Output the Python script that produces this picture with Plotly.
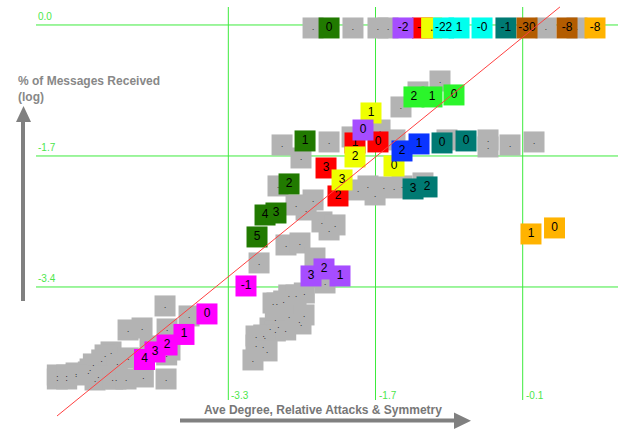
import plotly.graph_objects as go

# ---------------- data ----------------
x_ticks = [-3.3, -1.7, -0.1]
x_tick_labels = ["-3.3", "-1.7", "-0.1"]
y_ticks = [0.0, -1.7, -3.4]
y_tick_labels = ["0.0", "-1.7", "-3.4"]

gray_x = [-2.379, -1.945, -1.673, -1.564, 0.153, 0.490,
          -2.716, -2.205, -2.510, -1.651, -1.955, -1.238, -0.999, -1.423, -1.488,
          -0.923, -0.477, -0.477, -0.238, 0.023, -2.760, -1.890, -1.782, -1.705,
          -1.608, -1.499, -1.412, -1.184, -2.379, -2.564, -2.455, -2.282, -2.140,
          -2.205, -2.673, -2.521, -2.358, -2.966, -2.249,
          -2.643, -2.564, -2.474, -2.814, -2.771, -2.698, -2.789, -2.640, -2.528,
          -2.477, -2.510, -2.847, -2.757, -2.676, -2.789, -2.915, -2.904, -2.999,
          -2.999, -2.923, -2.879, -3.032,
          -3.988, -3.727, -3.966, -3.934, -3.977, -4.390, -4.238, -4.151, -3.970,
          -4.575, -4.640, -4.676, -4.387, -4.507, -4.767, -4.803, -4.822, -4.955,
          -4.713, -4.749, -5.159, -5.159, -5.057, -5.057, -4.955, -4.557, -4.521,
          -4.412, -4.224]
gray_y = [-0.039, -0.039, -0.039, -0.039, -0.039, -0.039,
          -1.557, -1.518, -1.726, -1.363, -1.453, -0.869, -0.727, -1.064, -1.492,
          -1.492, -1.492, -1.583, -1.557, -1.518, -2.089, -2.141, -2.089, -2.206,
          -2.102, -2.115, -2.089, -2.050, -2.271, -2.336, -2.401, -2.556, -2.595,
          -2.660, -2.855, -2.829, -3.024, -3.088, -3.348,
          -3.504, -3.504, -3.478, -3.608, -3.608, -3.582, -3.815, -3.776, -3.841,
          -3.763, -3.880, -3.932, -3.906, -3.958, -3.971, -4.023, -4.049, -4.036,
          -4.153, -4.166, -4.230, -4.347,
          -3.646, -3.776, -3.945, -4.218, -4.594, -3.958, -3.932, -4.166, -4.282,
          -4.243, -4.282, -4.347, -4.321, -4.386, -4.399, -4.464, -4.503, -4.516,
          -4.555, -4.607, -4.542, -4.594, -4.542, -4.594, -4.542, -4.594, -4.594,
          -4.594, -4.568]

red_x = [-1.190, -1.923, -1.673, -2.238, -2.108]
red_y = [-0.039, -1.531, -1.518, -1.856, -2.219]
red_lbl = ["-2", "1", "0", "3", "2"]

yellow_x = [-1.090, -1.749, -1.923, -1.499, -2.064]
yellow_y = [-0.039, -1.142, -1.713, -1.830, -2.011]
yellow_lbl = [".", "1", "2", "0", "3"]

purple_x = [-1.401, -1.836, -2.401, -2.086, -2.260]
purple_y = [-0.039, -1.363, -3.257, -3.257, -3.166]
purple_lbl = ["-2", "0", "3", "1", "2"]

cyan_x = [-0.960, -0.792, -0.542]
cyan_y = [-0.039, -0.039, -0.039]
cyan_lbl = ["-22", "1", "-0"]

lime_x = [-1.282, -1.086, -0.847]
lime_y = [-0.934, -0.934, -0.908]
lime_lbl = ["2", "1", "0"]

teal_x = [-0.282, -0.977, -0.716, -1.292, -1.140]
teal_y = [-0.039, -1.531, -1.505, -2.128, -2.102]
teal_lbl = ["-1", "0", "0", "3", "2"]

blue_x = [-1.412, -1.227]
blue_y = [-1.635, -1.544]
blue_lbl = ["2", "1"]

brown_x = [-0.053, 0.382]
brown_y = [-0.039, -0.039]
brown_lbl = ["-30", "-8"]

orange_x = [0.686, -0.010, 0.246]
orange_y = [-0.039, -2.712, -2.634]
orange_lbl = ["-8", "1", "0"]

dkgreen_x = [-2.205, -2.466, -2.640, -2.901, -2.782, -2.988]
dkgreen_y = [-0.039, -1.505, -2.063, -2.466, -2.440, -2.751]
dkgreen_lbl = ["0", "1", "2", "4", "3", "5"]

magenta_x = [-3.108, -3.532, -3.782, -3.966, -4.211, -4.097]
magenta_y = [-3.387, -3.750, -4.016, -4.153, -4.341, -4.243]
magenta_lbl = ["-1", "0", "1", "2", "4", "3"]

trend_x = [-5.162, 0.305]
trend_y = [-5.074, 0.234]

# ---------------- figure ----------------
FONT = "Arial, Liberation Sans, sans-serif"
W, H = 618, 430

fig = go.Figure()


def add_series(xs, ys, labels, color, tsize=12):
    fig.add_trace(go.Scatter(
        x=xs, y=ys, mode="markers+text", text=labels,
        textposition="middle center",
        textfont=dict(family=FONT, size=tsize, color="#000000"),
        marker=dict(symbol="square", size=21, color=color,
                    line=dict(width=0)),
        hoverinfo="skip", showlegend=False, cliponaxis=False))


add_series(gray_x, gray_y, ["."] * len(gray_x), "#B3B3B3", 8)
add_series(red_x, red_y, red_lbl, "#FF0000")
add_series(yellow_x, yellow_y, yellow_lbl, "#EEFF00")
add_series(purple_x, purple_y, purple_lbl, "#A64DFF")
add_series(cyan_x, cyan_y, cyan_lbl, "#00FFEE")
add_series(lime_x, lime_y, lime_lbl, "#2BF52B")
add_series(teal_x, teal_y, teal_lbl, "#007A73")
add_series(blue_x, blue_y, blue_lbl, "#0A35FF")
add_series(brown_x, brown_y, brown_lbl, "#B35C00")
add_series(orange_x, orange_y, orange_lbl, "#FFB300")
add_series(dkgreen_x, dkgreen_y, dkgreen_lbl, "#217A00")
add_series(magenta_x, magenta_y, magenta_lbl, "#FF00FF")

fig.add_trace(go.Scatter(x=trend_x, y=trend_y, mode="lines",
                         line=dict(color="#FF4040", width=1),
                         hoverinfo="skip", showlegend=False))

GRID = "#3DEB3D"
TICKC = "#4CE64C"
shapes = []
annotations = []
for xt, lab in zip(x_ticks, x_tick_labels):
    shapes.append(dict(type="line", xref="x", yref="paper", x0=xt, x1=xt,
                       y0=1 - 400 / H, y1=1 - 7 / H, layer="below",
                       line=dict(color=GRID, width=1)))
    annotations.append(dict(x=xt, xref="x", y=1 - 395 / H, yref="paper",
                            text=lab, showarrow=False, xanchor="left",
                            yanchor="middle", xshift=1,
                            font=dict(family=FONT, size=10, color=TICKC)))
for yt, lab in zip(y_ticks, y_tick_labels):
    shapes.append(dict(type="line", xref="paper", yref="y", x0=36 / W, x1=1,
                       y0=yt, y1=yt, layer="below",
                       line=dict(color=GRID, width=1)))
    annotations.append(dict(x=36 / W, xref="paper", y=yt, yref="y",
                            text=lab, showarrow=False, xanchor="left",
                            yanchor="bottom", yshift=1,
                            font=dict(family=FONT, size=10, color=TICKC)))

ARROW = "#808080"
# vertical arrow
shapes.append(dict(type="line", xref="paper", yref="paper",
                   x0=23 / W, x1=23 / W, y0=1 - 301 / H, y1=1 - 120 / H,
                   line=dict(color=ARROW, width=4)))
shapes.append(dict(type="path", xref="paper", yref="paper",
                   path=f"M {16/W} {1-122/H} L {31/W} {1-122/H} L {23.5/W} {1-106/H} Z",
                   fillcolor=ARROW, line=dict(width=0)))
# horizontal arrow
shapes.append(dict(type="line", xref="paper", yref="paper",
                   x0=180 / W, x1=456 / W, y0=1 - 420.5 / H, y1=1 - 420.5 / H,
                   line=dict(color=ARROW, width=4)))
shapes.append(dict(type="path", xref="paper", yref="paper",
                   path=f"M {454/W} {1-412.5/H} L {454/W} {1-429/H} L {471/W} {1-420.7/H} Z",
                   fillcolor=ARROW, line=dict(width=0)))

annotations.append(dict(x=16 / W, y=1 - 89 / H, xref="paper", yref="paper",
                        text="<b>% of Messages Received</b><br><b>(log)</b>",
                        showarrow=False, xanchor="left", yanchor="middle",
                        align="left",
                        font=dict(family=FONT, size=12, color="#888888")))
annotations.append(dict(x=202 / W, y=1 - 410 / H, xref="paper", yref="paper",
                        text="<b>Ave Degree, Relative Attacks & Symmetry</b>",
                        showarrow=False, xanchor="left", yanchor="middle",
                        font=dict(family=FONT, size=12, color="#777777")))

fig.update_layout(
    width=W, height=H, margin=dict(l=0, r=0, t=0, b=0),
    paper_bgcolor="white", plot_bgcolor="white",
    xaxis=dict(range=[-5.782, 0.936], visible=False),
    yaxis=dict(range=[-5.256, 0.324], visible=False),
    shapes=shapes, annotations=annotations, showlegend=False,
)

fig.write_html("out.html")
